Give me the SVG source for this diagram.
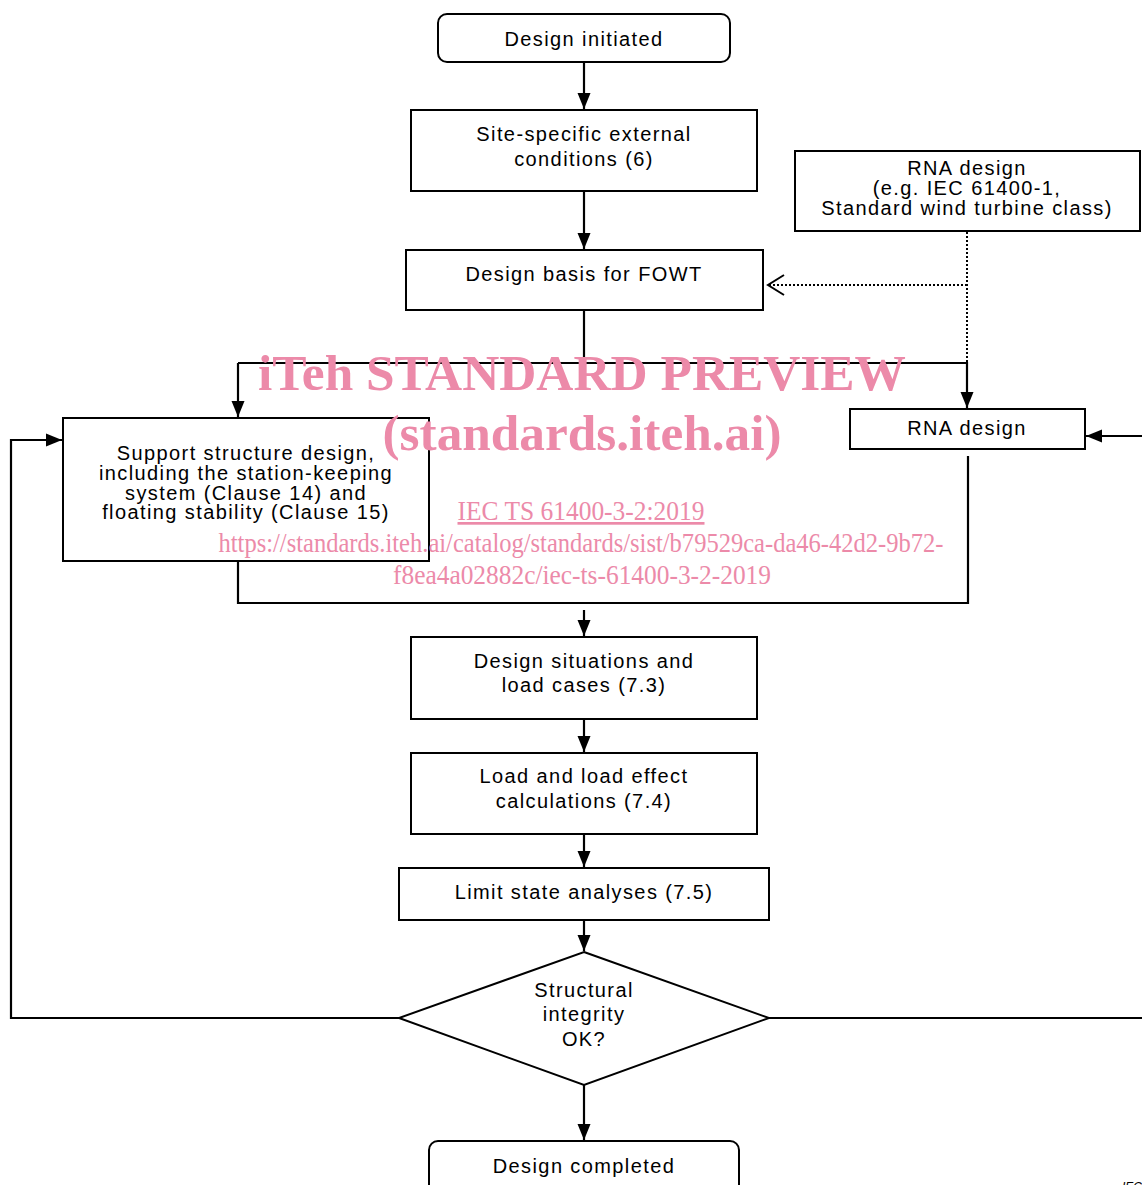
<svg xmlns="http://www.w3.org/2000/svg" width="1142" height="1185" viewBox="0 0 1142 1185">
<style>
.box{fill:#fff;stroke:#000;stroke-width:2}
.t{font-family:"Liberation Sans",Arial,sans-serif;font-size:20px;letter-spacing:1.4px;fill:#000;text-anchor:middle}
.ln{fill:none;stroke:#000;stroke-width:2.2}
.dot{fill:none;stroke:#000;stroke-width:2;stroke-dasharray:2 2}
.wm{font-family:"Liberation Serif","Times New Roman",serif;fill:#ec8aa9;text-anchor:middle}
</style>
<defs>
<marker id="ah" markerUnits="userSpaceOnUse" markerWidth="18" markerHeight="18" viewBox="0 0 18 18" refX="17" refY="9" orient="auto">
<path d="M1,2.5 L17,9 L1,15.5 Z" fill="#000"/>
</marker>
<marker id="oa" markerUnits="userSpaceOnUse" markerWidth="20" markerHeight="22" viewBox="0 0 20 22" refX="18" refY="11" orient="auto">
<path d="M2,1 L18,11 L2,21" fill="none" stroke="#000" stroke-width="2"/>
</marker>
</defs>
<rect width="1142" height="1185" fill="#fff"/>
<g id="connectors">
<line class="ln" x1="584" y1="62" x2="584" y2="109" marker-end="url(#ah)"/>
<line class="ln" x1="584" y1="191" x2="584" y2="249" marker-end="url(#ah)"/>
<polyline class="dot" points="967,232 967,362"/>
<line class="dot" x1="967" y1="285" x2="768" y2="285" marker-end="url(#oa)"/>
<line class="ln" x1="584" y1="310" x2="584" y2="363"/>
<polyline class="ln" points="238,363 967,363 967,408" marker-end="url(#ah)"/>
<line class="ln" x1="238" y1="363" x2="238" y2="417" marker-end="url(#ah)"/>
<line class="ln" x1="1142" y1="436" x2="1086" y2="436" marker-end="url(#ah)"/>
<polyline class="ln" points="238,561 238,603 968,603 968,456"/>
<line class="ln" x1="584" y1="610" x2="584" y2="636" marker-end="url(#ah)"/>
<line class="ln" x1="584" y1="719" x2="584" y2="752" marker-end="url(#ah)"/>
<line class="ln" x1="584" y1="834" x2="584" y2="867" marker-end="url(#ah)"/>
<line class="ln" x1="584" y1="920" x2="584" y2="951" marker-end="url(#ah)"/>
<polyline class="ln" points="399,1018 11,1018 11,440 62,440" marker-end="url(#ah)"/>
<line class="ln" x1="769" y1="1018" x2="1142" y2="1018"/>
<line class="ln" x1="584" y1="1085" x2="584" y2="1140" marker-end="url(#ah)"/>
</g>
<g id="n-initiated"><rect class="box" x="438" y="14" width="292" height="48" rx="9"/><text class="t" x="584" y="46">Design initiated</text></g>
<g id="n-site"><rect class="box" x="411" y="110" width="346" height="81"/><text class="t" x="584" y="141">Site-specific external</text><text class="t" x="584" y="166">conditions (6)</text></g>
<g id="n-basis"><rect class="box" x="406" y="250" width="357" height="60"/><text class="t" x="584" y="281">Design basis for FOWT</text></g>
<g id="n-rna-input"><rect class="box" x="795" y="151" width="345" height="80"/><text class="t" x="967" y="175">RNA design</text><text class="t" x="967" y="195">(e.g. IEC 61400-1,</text><text class="t" x="967" y="215">Standard wind turbine class)</text></g>
<g id="n-support"><rect class="box" x="63" y="418" width="366" height="143"/><text class="t" x="246" y="460">Support structure design,</text><text class="t" x="246" y="480">including the station-keeping</text><text class="t" x="246" y="500">system (Clause 14) and</text><text class="t" x="246" y="519">floating stability (Clause 15)</text></g>
<g id="n-rna"><rect class="box" x="850" y="409" width="235" height="40"/><text class="t" x="967" y="435">RNA design</text></g>
<g id="n-situations"><rect class="box" x="411" y="637" width="346" height="82"/><text class="t" x="584" y="668">Design situations and</text><text class="t" x="584" y="692">load cases (7.3)</text></g>
<g id="n-loads"><rect class="box" x="411" y="753" width="346" height="81"/><text class="t" x="584" y="783">Load and load effect</text><text class="t" x="584" y="808">calculations (7.4)</text></g>
<g id="n-limit"><rect class="box" x="399" y="868" width="370" height="52"/><text class="t" x="584" y="899">Limit state analyses (7.5)</text></g>
<g id="n-decision"><polygon class="box" points="584,952 769,1018 584,1085 399,1018"/><text class="t" x="584" y="997">Structural</text><text class="t" x="584" y="1021">integrity</text><text class="t" x="584" y="1046">OK?</text></g>
<g id="n-completed"><rect class="box" x="429" y="1141" width="310" height="55" rx="9"/><text class="t" x="584" y="1173">Design completed</text></g>
<g id="watermark">
<text class="wm" x="582" y="390" font-size="50" font-weight="bold" textLength="648" lengthAdjust="spacingAndGlyphs">iTeh STANDARD PREVIEW</text>
<text class="wm" x="582" y="450" font-size="50" font-weight="bold" textLength="399" lengthAdjust="spacingAndGlyphs">(standards.iteh.ai)</text>
<text class="wm" x="581" y="520" font-size="27" text-decoration="underline" textLength="247" lengthAdjust="spacingAndGlyphs">IEC TS 61400-3-2:2019</text>
<text class="wm" x="581" y="552" font-size="27" textLength="725" lengthAdjust="spacingAndGlyphs">https://standards.iteh.ai/catalog/standards/sist/b79529ca-da46-42d2-9b72-</text>
<text class="wm" x="582" y="584" font-size="27" textLength="378" lengthAdjust="spacingAndGlyphs">f8ea4a02882c/iec-ts-61400-3-2-2019</text>
</g>
<text x="1122" y="1191" font-family="Liberation Sans,Arial,sans-serif" font-size="12" font-style="italic" fill="#000">IEC</text>
</svg>
